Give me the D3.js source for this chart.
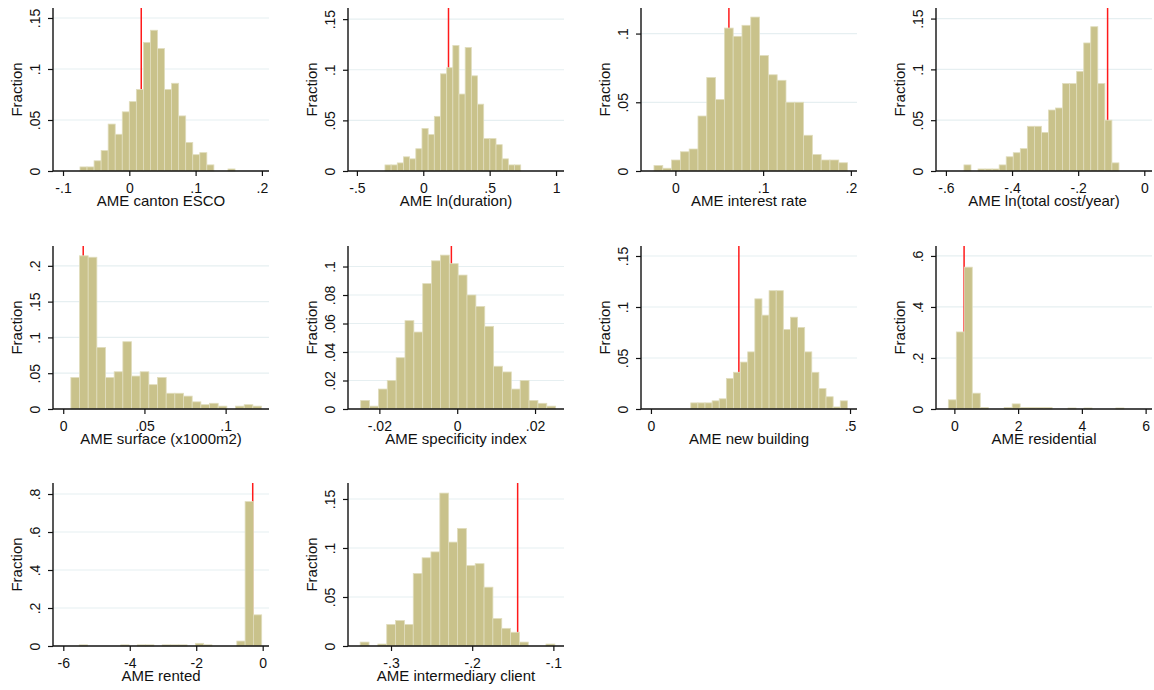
<!DOCTYPE html>
<html>
<head>
<meta charset="utf-8">
<script src="https://cdn.jsdelivr.net/npm/d3@7"></script>
<style>
  body { margin: 0; background: #fff; }
  svg { display: block; font-family: "Liberation Sans", Arial, sans-serif; }
</style>
</head>
<body>
<svg id="canvas" width="1154" height="690"></svg>
<script>
// axis titles, one per panel
const titles = [
  "AME canton ESCO",
  "AME ln(duration)",
  "AME interest rate",
  "AME ln(total cost/year)",
  "AME surface (x1000m2)",
  "AME specificity index",
  "AME new building",
  "AME residential",
  "AME rented",
  "AME intermediary client",
];

// first bin start and bin width (22 bins each)
const binStart = [-0.0744, -0.2886, -0.0244, -0.5455, 0.0047, -0.0248, 0.1, -0.189, -5.519, -0.338];
const binWidth = [0.01063, 0.04648, 0.01003, 0.02131, 0.005336, 0.002277, 0.01788, 0.2503, 0.2495, 0.0109];

// fractions per bin
const fracCanton = [0.004, 0.004, 0.01, 0.02, 0.046, 0.036, 0.058, 0.068, 0.08, 0.126, 0.138, 0.12, 0.08, 0.086, 0.054, 0.028, 0.016, 0.018, 0.006, 0, 0, 0.002];
const fracDuration = [0.006, 0.006, 0.008, 0.014, 0.012, 0.022, 0.042, 0.036, 0.054, 0.096, 0.102, 0.124, 0.076, 0.122, 0.094, 0.066, 0.032, 0.032, 0.026, 0.012, 0.006, 0.006];
const fracInterest = [0.004, 0.002, 0.008, 0.014, 0.016, 0.04, 0.068, 0.052, 0.104, 0.098, 0.106, 0.112, 0.084, 0.07, 0.066, 0.05, 0.05, 0.026, 0.012, 0.008, 0.008, 0.006];
const fracCost = [0.006, 0, 0.002, 0.002, 0.002, 0.006, 0.014, 0.018, 0.022, 0.044, 0.044, 0.038, 0.06, 0.062, 0.086, 0.086, 0.098, 0.126, 0.142, 0.086, 0.05, 0.008];
const fracSurface = [0.044, 0.214, 0.212, 0.086, 0.044, 0.052, 0.094, 0.046, 0.052, 0.034, 0.044, 0.022, 0.022, 0.018, 0.01, 0.006, 0.008, 0.004, 0, 0.004, 0.006, 0.004];
const fracSpecific = [0.006, 0.002, 0.014, 0.02, 0.036, 0.062, 0.054, 0.088, 0.104, 0.108, 0.102, 0.094, 0.08, 0.072, 0.058, 0.03, 0.026, 0.014, 0.02, 0.006, 0.004, 0.002];
const fracNewBuild = [0.006, 0.006, 0.006, 0.008, 0.01, 0.03, 0.036, 0.046, 0.056, 0.108, 0.092, 0.116, 0.116, 0.078, 0.09, 0.08, 0.056, 0.036, 0.02, 0.012, 0.002, 0.008];
const fracResident = [0.036, 0.302, 0.556, 0.062, 0.006, 0, 0, 0.006, 0.02, 0.006, 0.006, 0.006, 0.006, 0, 0, 0.004, 0, 0.004, 0, 0, 0, 0.004];
const fracRented = [0.006, 0, 0, 0, 0, 0.006, 0, 0.006, 0.006, 0, 0.006, 0.006, 0.006, 0, 0.014, 0.006, 0, 0, 0, 0.026, 0.76, 0.164];
const fracInterm = [0.004, 0, 0.002, 0.022, 0.026, 0.022, 0.074, 0.09, 0.096, 0.156, 0.106, 0.12, 0.082, 0.084, 0.06, 0.028, 0.018, 0.014, 0.004, 0, 0, 0.002];

const fractions = [fracCanton, fracDuration, fracInterest, fracCost, fracSurface, fracSpecific, fracNewBuild, fracResident, fracRented, fracInterm];

// red reference line
const refLine = [0.018, 0.19, 0.061, -0.111, 0.0123, -0.0015, 0.2208, 0.305, -0.30, -0.144];

// axis extents
const xDomain = [[-0.1151, 0.2107], [-0.567, 1.06], [-0.0392, 0.207], [-0.63, 0.0233], [-0.0063, 0.1267],
  [-0.02806, 0.02744], [-0.025, 0.5175], [-0.576, 6.2], [-6.31, 0.19], [-0.353, -0.0869]];
const yMax = [0.1598, 0.161, 0.1186, 0.1604, 0.2277, 0.1144, 0.1598, 0.639, 0.858, 0.1663];

// ticks
const xTicks = [[-0.1, 0, 0.1, 0.2], [-0.5, 0, 0.5, 1], [0, 0.1, 0.2], [-0.6, -0.4, -0.2, 0], [0, 0.05, 0.1],
  [-0.02, 0, 0.02], [0, 0.5], [0, 2, 4, 6], [-6, -4, -2, 0], [-0.3, -0.2, -0.1]];
const yTicks = [[0, 0.05, 0.1, 0.15], [0, 0.05, 0.1, 0.15], [0, 0.05, 0.1], [0, 0.05, 0.1, 0.15], [0, 0.05, 0.1, 0.15, 0.2],
  [0, 0.02, 0.04, 0.06, 0.08, 0.1], [0, 0.05, 0.1, 0.15], [0, 0.2, 0.4, 0.6], [0, 0.2, 0.4, 0.6, 0.8], [0, 0.05, 0.1, 0.15]];

// Stata style: no leading zero
const stataFmt = (v) => {
  let s = String(+v.toFixed(4));
  return s.replace(/^0\./, ".").replace(/^-0\./, "-.");
};

const colX = [53, 348, 641, 936];
const rowY = [8, 246, 483];
const plotW = 216;
const plotH = 163;

const canvas = d3.select("#canvas");

titles.forEach((title, i) => {
  const left = colX[i % 4];
  const top = rowY[Math.floor(i / 4)];

  const x = d3.scaleLinear().domain(xDomain[i]).range([0, plotW]);
  const y = d3.scaleLinear().domain([0, yMax[i]]).range([plotH, 0]);

  const g = canvas.append("g").attr("transform", "translate(" + left + "," + top + ")");

  // gridlines
  g.selectAll(".grid")
    .data(yTicks[i].filter((t) => t > 0))
    .enter()
    .append("line")
    .attr("x1", 0)
    .attr("x2", plotW)
    .attr("y1", (t) => y(t))
    .attr("y2", (t) => y(t))
    .attr("stroke", "#e6eff1")
    .attr("stroke-width", 1.2);

  // reference line (drawn under the bars)
  g.append("line")
    .attr("x1", x(refLine[i]))
    .attr("x2", x(refLine[i]))
    .attr("y1", 0)
    .attr("y2", plotH)
    .attr("stroke", "#ff1a1a")
    .attr("stroke-width", 1.5);

  const bins = fractions[i].map((f, k) => ({
    x0: binStart[i] + k * binWidth[i],
    x1: binStart[i] + (k + 1) * binWidth[i],
    f: f,
  }));

  g.selectAll(".bar")
    .data(bins.filter((b) => b.f > 0))
    .enter()
    .append("rect")
    .attr("x", (b) => x(b.x0))
    .attr("width", (b) => x(b.x1) - x(b.x0))
    .attr("y", (b) => y(b.f))
    .attr("height", (b) => plotH - y(b.f))
    .attr("fill", "#c9c28b")
    .attr("stroke", "#e0ddbd")
    .attr("stroke-width", 0.8);

  // x axis
  const xAxis = d3.axisBottom(x).tickValues(xTicks[i]).tickSize(5).tickPadding(3).tickFormat(stataFmt);
  const gx = g.append("g").attr("transform", "translate(0," + plotH + ")").call(xAxis);
  gx.select(".domain").attr("d", "M0,0H" + plotW).attr("stroke", "#111").attr("stroke-width", 1.4);
  gx.selectAll(".tick line").attr("stroke", "#111").attr("stroke-width", 1.2);
  gx.selectAll(".tick text")
    .attr("y", 22)
    .attr("dy", 0)
    .attr("fill", "#111")
    .style("font-size", "14px")
    .style("font-family", "'Liberation Sans', Arial, sans-serif");

  // y axis
  const yAxis = d3.axisLeft(y).tickValues(yTicks[i]).tickSize(5).tickFormat(stataFmt);
  const gy = g.append("g").call(yAxis);
  gy.select(".domain").attr("d", "M0,0V" + plotH).attr("stroke", "#111").attr("stroke-width", 1.4);
  gy.selectAll(".tick line").attr("stroke", "#111").attr("stroke-width", 1.2);
  gy.selectAll(".tick text")
    .attr("x", 0)
    .attr("dy", 0)
    .attr("transform", "translate(-13,0) rotate(-90)")
    .attr("text-anchor", "middle")
    .attr("fill", "#111")
    .style("font-size", "14px")
    .style("font-family", "'Liberation Sans', Arial, sans-serif");

  // axis titles
  g.append("text")
    .attr("x", plotW / 2)
    .attr("y", plotH + 35)
    .attr("text-anchor", "middle")
    .attr("fill", "#111")
    .style("font-size", "15px")
    .text(title);

  g.append("text")
    .attr("transform", "translate(-31," + plotH / 2 + ") rotate(-90)")
    .attr("text-anchor", "middle")
    .attr("fill", "#111")
    .style("font-size", "15px")
    .text("Fraction");
});
</script>
</body>
</html>
